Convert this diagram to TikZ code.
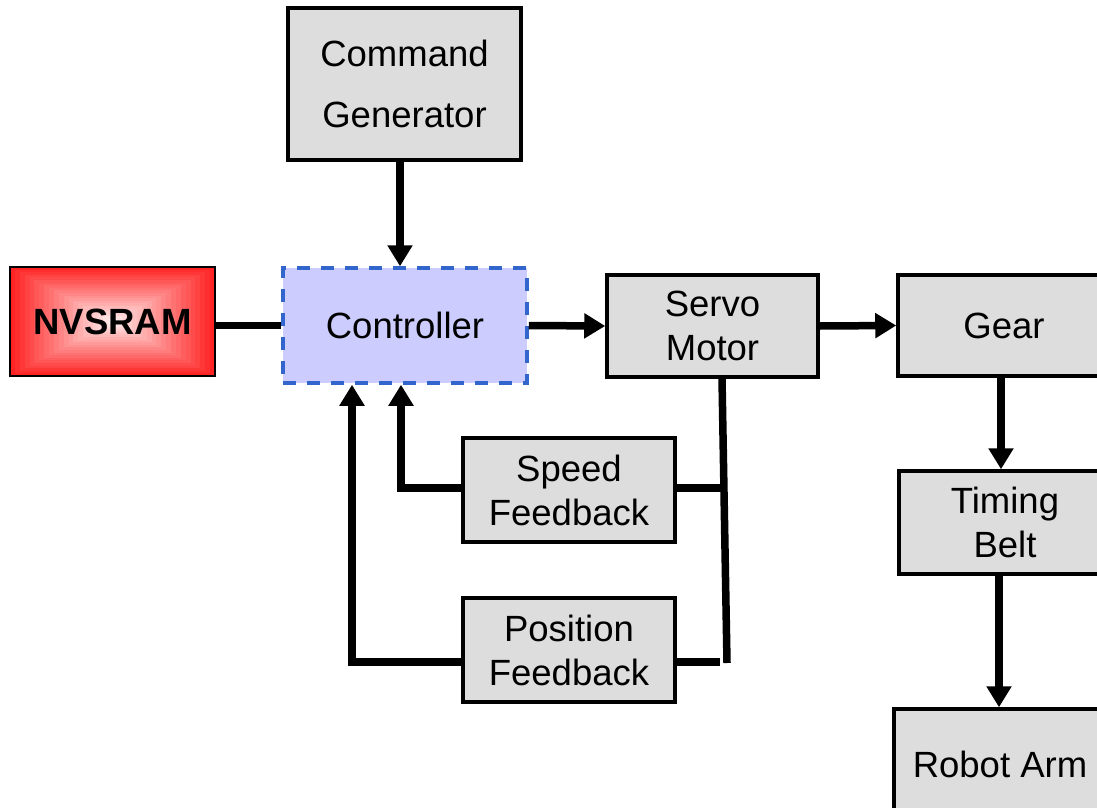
\documentclass[tikz,border=0pt]{standalone}
\usepackage{fontspec}
\setmainfont{Liberation Sans}
\usetikzlibrary{arrows.meta,calc}
\definecolor{boxgray}{RGB}{221,221,221}
\definecolor{ctrlfill}{RGB}{204,204,255}
\definecolor{ctrlblue}{RGB}{51,102,204}
\definecolor{nvred}{RGB}{255,35,35}
\begin{document}
\begin{tikzpicture}[x=1pt,y=-1pt,
  box/.style={draw=black, line width=3.5pt, fill=boxgray, inner sep=0pt, align=center,
    font=\fontsize{36.5}{44}\selectfont, minimum width=211pt, minimum height=102pt},
  conn/.style={line width=7.5pt},
  arr/.style={conn, -{Triangle[length=21pt,width=24pt]}},
]
\useasboundingbox (0,0) rectangle (1097,808);
\clip (0,0) rectangle (1097,808);

% NVSRAM gradient
\foreach \i in {0,...,20}{
  \pgfmathsetmacro\dx{102.5*\i/21}
  \pgfmathsetmacro\dy{54.5*\i/21}
  \pgfmathtruncatemacro\pc{100-4.5*\i}
  \fill[nvred!\pc!white] (10+\dx,267+\dy) rectangle (215-\dx,376-\dy);
}
\node[draw=black, line width=2pt, minimum width=205pt, minimum height=109pt, inner sep=0pt,
  font=\bfseries\fontsize{36.5}{44}\selectfont] (nv) at (112.5,321.5) {NVSRAM};

\node[box, minimum width=233pt, minimum height=152pt] (cmd) at (404.5,84) {Command\\[17pt]Generator};
\node[box, draw=ctrlblue, dash pattern=on 13pt off 11pt, fill=ctrlfill,
  minimum width=244pt, minimum height=115pt] (ctrl) at (405,325.5) {Controller};
\node[box] (servo) at (712.5,326) {Servo\\Motor};
\node[box, minimum width=212pt, minimum height=101pt] (gear) at (1004,325.5) {Gear};
\node[box, minimum width=212pt, minimum height=103pt] (timing) at (1005,522.5) {Timing\\Belt};
\node[box, minimum width=212pt, minimum height=110pt] (robot) at (1000,764) {Robot Arm};
\node[box, minimum width=212pt, minimum height=104pt] (speed) at (569,490) {Speed\\Feedback};
\node[box, minimum width=212pt, minimum height=104pt] (pos) at (569,650) {Position\\Feedback};

\coordinate (cx) at (400,0);
\coordinate (gx) at (1001,0);
\coordinate (rx) at (999,0);
\coordinate (tapTop) at (722,0);
\coordinate (tapBot) at (727,663);
\coordinate (sj) at (720,488);
\coordinate (pj) at (720,662);
\coordinate (sx) at (401,0);
\coordinate (px) at (352,0);

\draw[conn] (nv.east |- ctrl.west) -- (ctrl.west);
\draw[arr] (cmd.south -| cx) -- (ctrl.north -| cx);
\draw[arr] (ctrl.east) -- (servo.west);
\draw[arr] (servo.east) -- (gear.west);
\draw[arr] (gear.south -| gx) -- (timing.north -| gx);
\draw[arr] (timing.south -| rx) -- (robot.north -| rx);

\draw[conn] (servo.south -| tapTop) -- (tapBot);
\draw[conn] (speed.east |- sj) -- (sj);
\draw[conn] (pos.east |- pj) -- (pj);
\draw[arr] (speed.west |- sj) -| (ctrl.south -| sx);
\draw[arr] (pos.west |- pj) -| (ctrl.south -| px);
\end{tikzpicture}
\end{document}
